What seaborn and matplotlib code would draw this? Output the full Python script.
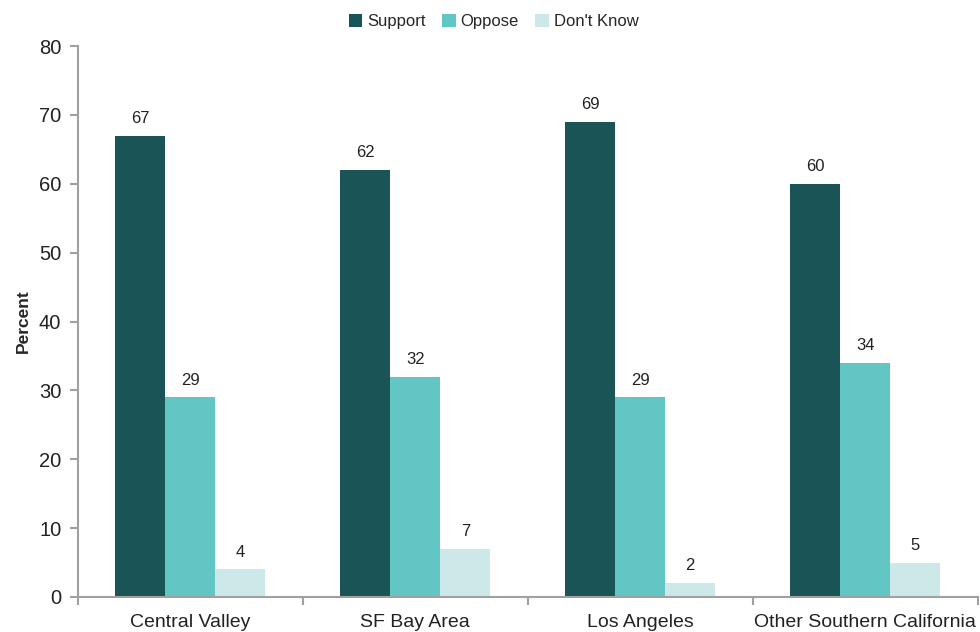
import pandas as pd
import seaborn as sns
import matplotlib.pyplot as plt
import numpy as np

regions = ["Central Valley", "SF Bay Area", "Los Angeles", "Other Southern California"]
responses = ["Support", "Oppose", "Don't Know"]
support = [67, 62, 69, 60]
oppose = [29, 32, 29, 34]
dont_know = [4, 7, 2, 5]
colors = ["#1B5457", "#62C6C4", "#CDE8E8"]

sns.set_theme(style="white")
plt.rcParams['font.family'] = ['Liberation Sans', 'DejaVu Sans']

df = pd.DataFrame({
    "Region": regions * 3,
    "Response": [r for r in responses for _ in regions],
    "Percent": support + oppose + dont_know,
})

fig = plt.figure(figsize=(9.8, 6.32), dpi=100)
ax = fig.add_axes([0.0796, 0.0554, 0.918, 0.8716])

sns.barplot(data=df, x="Region", y="Percent", hue="Response", hue_order=responses,
            palette=colors, width=0.667, saturation=1, linewidth=0, ax=ax, legend=True)

for cont in ax.containers:
    ax.bar_label(cont, padding=7, fontsize=12, color="#222222")

ax.set_ylim(0, 80)
ax.set_xlim(-0.5, 3.5)
ax.set_yticks(range(0, 81, 10))
ax.set_xlabel("")
ax.set_ylabel("Percent", fontsize=12.5, fontweight="bold", labelpad=6)

# category boundary ticks
ax.set_xticks(np.arange(-0.5, 4, 1), minor=True)
ax.tick_params(axis="x", which="major", length=0, labelsize=14, pad=12, labelcolor="#222222")
ax.tick_params(axis="x", which="minor", length=6, width=1.5, color="#A0A0A0", direction="out", bottom=True)
ax.tick_params(axis="y", length=6, width=1.5, color="#A0A0A0", direction="out", left=True,
               labelsize=14.5, labelcolor="#222222", pad=6)

for s in ["top", "right"]:
    ax.spines[s].set_visible(False)
for s in ["left", "bottom"]:
    ax.spines[s].set_color("#A0A0A0")
    ax.spines[s].set_linewidth(1.5)

ax.legend(loc="upper center", bbox_to_anchor=(0.462, 1.085), ncol=3, frameon=False,
          fontsize=12, handlelength=0.8, handleheight=0.8, handletextpad=0.3,
          columnspacing=1.0)

plt.savefig("out.png", dpi=100)
